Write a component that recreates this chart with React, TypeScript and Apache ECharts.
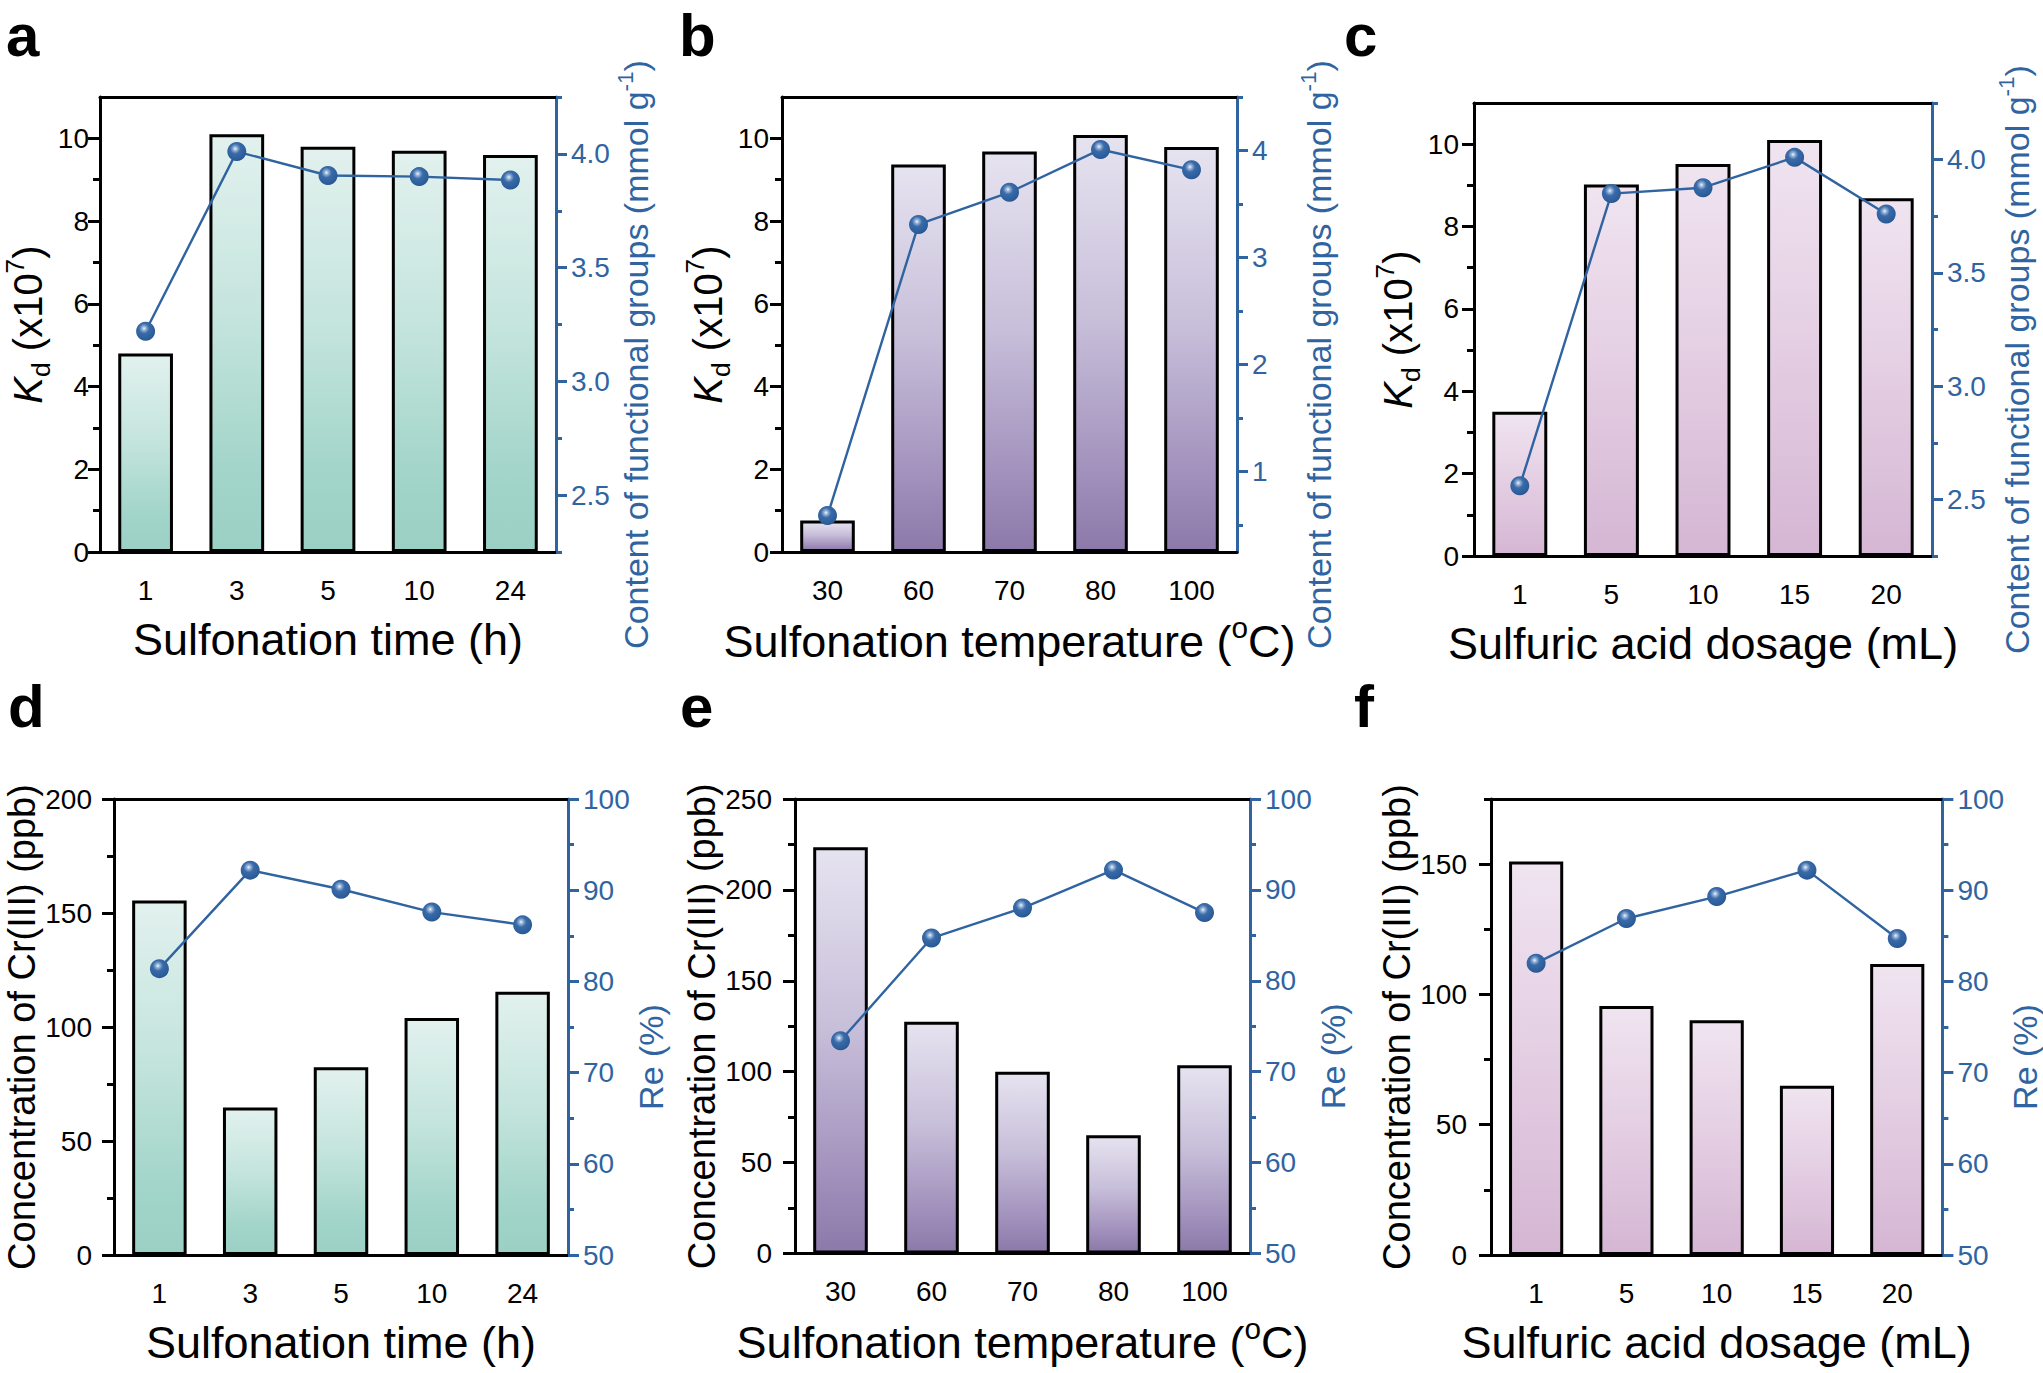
import React, { useEffect, useRef } from 'react';
import * as echarts from 'echarts';

// ---------- data ----------
const catsTime = ['1', '3', '5', '10', '24'];
const catsTemp = ['30', '60', '70', '80', '100'];
const catsAcid = ['1', '5', '10', '15', '20'];

const kdTime = [4.8, 10.1, 9.8, 9.7, 9.6];
const fgTime = [3.22, 4.01, 3.905, 3.9, 3.885];
const kdTemp = [0.76, 9.37, 9.68, 10.08, 9.79];
const fgTemp = [0.59, 3.31, 3.61, 4.01, 3.82];
const kdAcid = [3.5, 9.02, 9.52, 10.1, 8.69];
const fgAcid = [2.56, 3.85, 3.876, 4.01, 3.76];

const crTime = [155.5, 64.7, 82.3, 104, 115.5];
const reTime = [81.4, 92.2, 90.1, 87.6, 86.2];
const crTemp = [223.5, 127.5, 100, 65, 103.5];
const reTemp = [73.4, 84.7, 88.0, 92.2, 87.5];
const crAcid = [151, 95.6, 90.1, 65, 111.7];
const reAcid = [82.0, 86.9, 89.3, 92.2, 84.7];

// tick values
const kdMajor = [0, 2, 4, 6, 8, 10];
const kdMinor = [1, 3, 5, 7, 9];
const fgMajorAC = [2.5, 3.0, 3.5, 4.0];
const fgMinorAC = [2.25, 2.75, 3.25, 3.75, 4.25];
const fgMajorB = [1, 2, 3, 4];
const fgMinorB = [0.5, 1.5, 2.5, 3.5, 4.5];
const crMajorD = [0, 50, 100, 150, 200];
const crMinorD = [25, 75, 125, 175];
const crMajorE = [0, 50, 100, 150, 200, 250];
const crMinorE = [25, 75, 125, 175, 225];
const crMajorF = [0, 50, 100, 150];
const crMinorF = [25, 75, 125, 175];
const reMajor = [50, 60, 70, 80, 90, 100];
const reMinor = [55, 65, 75, 85, 95];

const FONT = 'Arial, "Liberation Sans", Helvetica, sans-serif';
const BLUE = '#2f64a1';
const TICK_FONT = 28;

const TEAL = ['#e2f1ee', '#c3e4dc', '#a3d5ca', '#9bd0c4'];
const PURPLE = ['#e6e3f0', '#c7bed9', '#a292bd', '#8c79aa'];
const PINK = ['#f0e4f0', '#e5d0e4', '#dbc0da', '#d5b6d4'];

const KD_NAME = '{i|K}{sub|d} (x10{sup|7})';
const CR_NAME = 'Concentration of Cr(III) (ppb)';
const FG_NAME = 'Content of functional groups (mmol g{sup|-1})';
const RE_NAME = 'Re (%)';

const panels = [
  { letter: 'a', lx: 6, ly: 5, box: [100, 97, 456, 455], cats: catsTime, bars: kdTime, pts: fgTime, grad: TEAL,
    xName: 'Sulfonation time (h)', yName: KD_NAME, yFont: 40, rName: FG_NAME,
    lmin: 0, lmax: 11, lMaj: kdMajor, lMin: kdMinor, lMargin: 11, lGap: 46,
    rmin: 2.25, rmax: 4.25, rMaj: fgMajorAC, rMin: fgMinorAC, rDec: 1, rGap: 58 },
  { letter: 'b', lx: 679, ly: 5, box: [782, 97, 455, 455], cats: catsTemp, bars: kdTemp, pts: fgTemp, grad: PURPLE,
    xName: 'Sulfonation temperature ({sup|o}C)', yName: KD_NAME, yFont: 40, rName: FG_NAME,
    lmin: 0, lmax: 11, lMaj: kdMajor, lMin: kdMinor, lMargin: 13, lGap: 46,
    rmin: 0.25, rmax: 4.5, rMaj: fgMajorB, rMin: fgMinorB, rDec: 0, rGap: 60 },
  { letter: 'c', lx: 1344, ly: 5, box: [1474, 103, 458, 453], cats: catsAcid, bars: kdAcid, pts: fgAcid, grad: PINK,
    xName: 'Sulfuric acid dosage (mL)', yName: KD_NAME, yFont: 40, rName: FG_NAME,
    lmin: 0, lmax: 11, lMaj: kdMajor, lMin: kdMinor, lMargin: 15, lGap: 44,
    rmin: 2.25, rmax: 4.25, rMaj: fgMajorAC, rMin: fgMinorAC, rDec: 1, rGap: 63 },
  { letter: 'd', lx: 8, ly: 676, box: [114, 799, 454, 456], cats: catsTime, bars: crTime, pts: reTime, grad: TEAL,
    xName: 'Sulfonation time (h)', yName: CR_NAME, yFont: 38, rName: RE_NAME,
    lmin: 0, lmax: 200, lMaj: crMajorD, lMin: crMinorD, lMargin: 22, lGap: 73,
    rmin: 50, rmax: 100, rMaj: reMajor, rMin: reMinor, rDec: 0, rGap: 59 },
  { letter: 'e', lx: 680, ly: 676, box: [795, 799, 455, 456], cats: catsTemp, bars: crTemp, pts: reTemp, grad: PURPLE,
    xName: 'Sulfonation temperature ({sup|o}C)', yName: CR_NAME, yFont: 38, rName: RE_NAME,
    lmin: 0, lmax: 250, lMaj: crMajorE, lMin: crMinorE, lMargin: 23, lGap: 73,
    rmin: 50, rmax: 100, rMaj: reMajor, rMin: reMinor, rDec: 0, rGap: 54 },
  { letter: 'f', lx: 1354, ly: 676, box: [1491, 799, 454, 456], cats: catsAcid, bars: crAcid, pts: reAcid, grad: PINK,
    xName: 'Sulfuric acid dosage (mL)', yName: CR_NAME, yFont: 38, rName: RE_NAME,
    lmin: 0, lmax: 175, lMaj: crMajorF, lMin: crMinorF, lMargin: 24, lGap: 74,
    rmin: 50, rmax: 100, rMaj: reMajor, rMin: reMinor, rDec: 0, rGap: 61 },
];

const richStyles = (size: number, color: string) => ({
  i: { fontStyle: 'italic', fontSize: size, fontFamily: FONT, color, lineHeight: size * 1.3 },
  sub: { fontSize: size * 0.66, fontFamily: FONT, color, verticalAlign: 'bottom', lineHeight: size * 1.3 },
  sup: { fontSize: size * 0.66, fontFamily: FONT, color, verticalAlign: 'top', lineHeight: size * 1.3 },
});

function buildOption() {
  const grid: any[] = [];
  const xAxis: any[] = [];
  const yAxis: any[] = [];
  const series: any[] = [];
  const graphic: any[] = [];

  panels.forEach((p, i) => {
    grid.push({ left: p.box[0], top: p.box[1], width: p.box[2], height: p.box[3], containLabel: false });
    xAxis.push({
      type: 'category', gridIndex: i, data: p.cats, position: 'bottom',
      axisLine: { onZero: false, lineStyle: { color: '#000', width: 3 } },
      axisTick: { alignWithLabel: true, length: 13, lineStyle: { color: '#000', width: 3 } },
      axisLabel: { color: '#000', fontSize: TICK_FONT, fontFamily: FONT, margin: 24 },
      splitLine: { show: false },
      name: p.xName, nameLocation: 'middle', nameGap: 60,
      nameTextStyle: { color: '#000', fontSize: 45, fontFamily: FONT, lineHeight: 54, rich: richStyles(45, '#000') },
    });
    xAxis.push({
      type: 'category', gridIndex: i, data: p.cats, position: 'top',
      axisLine: { onZero: false, lineStyle: { color: '#000', width: 3 } },
      axisTick: { show: false }, axisLabel: { show: false }, splitLine: { show: false },
    });
    // left main
    yAxis.push({
      type: 'value', gridIndex: i, position: 'left', min: p.lmin, max: p.lmax,
      axisLine: { show: true, lineStyle: { color: '#000', width: 3 } },
      axisTick: { show: true, length: 12, customValues: p.lMaj, lineStyle: { color: '#000', width: 3 } },
      axisLabel: { customValues: p.lMaj, color: '#000', fontSize: TICK_FONT, fontFamily: FONT, margin: p.lMargin },
      splitLine: { show: false },
      name: p.yName, nameLocation: 'middle', nameGap: p.lGap,
      nameTextStyle: { color: '#000', fontSize: p.yFont, fontFamily: FONT, rich: richStyles(p.yFont, '#000') },
    });
    // left minor
    yAxis.push({
      type: 'value', gridIndex: i, position: 'left', min: p.lmin, max: p.lmax,
      axisLine: { show: false },
      axisTick: { show: true, length: 7, customValues: p.lMin, lineStyle: { color: '#000', width: 3 } },
      axisLabel: { show: false }, splitLine: { show: false },
    });
    // right main
    yAxis.push({
      type: 'value', gridIndex: i, position: 'right', min: p.rmin, max: p.rmax,
      axisLine: { show: true, lineStyle: { color: BLUE, width: 3 } },
      axisTick: { show: true, length: 11, customValues: p.rMaj, lineStyle: { color: BLUE, width: 3 } },
      axisLabel: {
        customValues: p.rMaj, color: BLUE, fontSize: TICK_FONT, fontFamily: FONT, margin: 15,
        formatter: (v: number) => v.toFixed(p.rDec),
      },
      splitLine: { show: false },
      name: p.rName, nameLocation: 'middle', nameGap: p.rGap,
      nameTextStyle: { color: BLUE, fontSize: 34, fontFamily: FONT, padding: [0, 60, 0, 0], rich: richStyles(34, BLUE) },
    });
    // right minor
    yAxis.push({
      type: 'value', gridIndex: i, position: 'right', min: p.rmin, max: p.rmax,
      axisLine: { show: false },
      axisTick: { show: true, length: 6, customValues: p.rMin, lineStyle: { color: BLUE, width: 3 } },
      axisLabel: { show: false }, splitLine: { show: false },
    });

    series.push({
      type: 'bar', xAxisIndex: 2 * i, yAxisIndex: 4 * i, data: p.bars, barWidth: '60%',
      itemStyle: {
        borderColor: '#000', borderWidth: 3,
        color: {
          type: 'linear', x: 0, y: 0, x2: 0, y2: 1,
          colorStops: [
            { offset: 0, color: p.grad[0] },
            { offset: 0.45, color: p.grad[1] },
            { offset: 0.8, color: p.grad[2] },
            { offset: 1, color: p.grad[3] },
          ],
        },
      },
    });
    series.push({
      type: 'line', xAxisIndex: 2 * i, yAxisIndex: 4 * i + 2, data: p.pts,
      symbol: 'circle', symbolSize: 19, z: 5,
      lineStyle: { color: BLUE, width: 2.4 },
      itemStyle: {
        color: {
          type: 'radial', x: 0.42, y: 0.35, r: 0.7,
          colorStops: [
            { offset: 0, color: '#f2f6fb' },
            { offset: 0.15, color: '#94b3d8' },
            { offset: 0.38, color: '#3a6ba8' },
            { offset: 0.85, color: '#2a5c99' },
            { offset: 1, color: '#1f4a82' },
          ],
        },
      },
    });

    graphic.push({
      type: 'text', left: p.lx, top: p.ly,
      style: { text: p.letter, fontSize: 60, lineHeight: 60, fontWeight: 'bold', fontFamily: FONT, fill: '#000' },
    });
  });

  return {
    animation: false,
    backgroundColor: '#fff',
    grid, xAxis, yAxis, series, graphic,
  };
}

export default function App() {
  const ref = useRef<HTMLDivElement>(null);
  useEffect(() => {
    if (!ref.current) return;
    const chart = echarts.init(ref.current, undefined, { renderer: 'svg' });
    chart.setOption(buildOption() as any);
    return () => chart.dispose();
  }, []);
  return (
    <div
      ref={ref}
      style={{ position: 'absolute', left: 0, top: 0, width: 2043, height: 1373, background: '#fff' }}
    />
  );
}
